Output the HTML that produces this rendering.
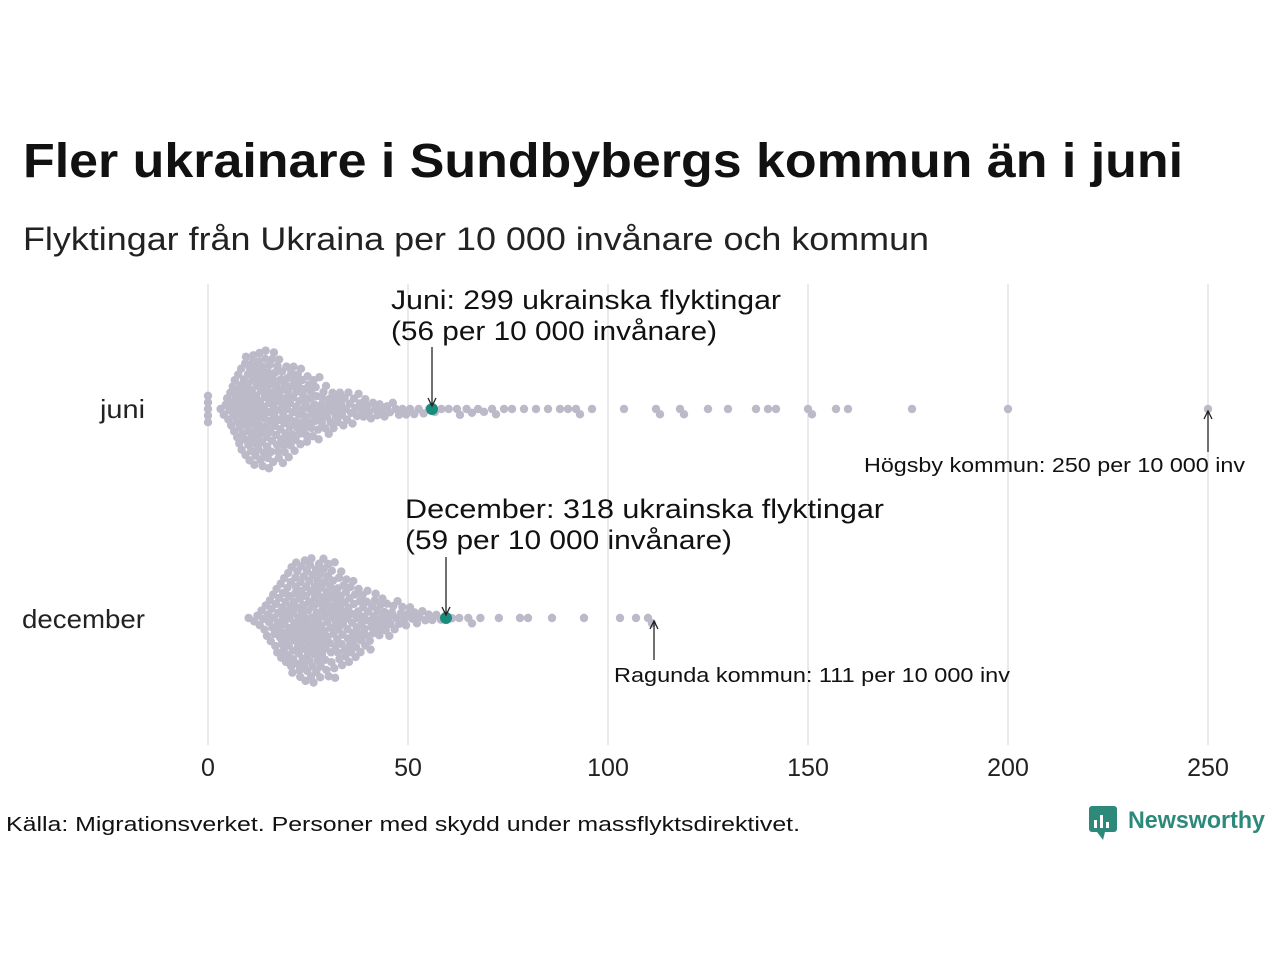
<!DOCTYPE html>
<html><head><meta charset="utf-8"><style>body{margin:0;background:#fff}svg{display:block}</style></head><body>
<svg id="s" width="1280" height="960" xmlns="http://www.w3.org/2000/svg" font-family="Liberation Sans, DejaVu Sans, sans-serif">
<rect width="1280" height="960" fill="#fff"/>
<text x="23" y="177" font-size="48" font-weight="bold" fill="#111" textLength="1160" lengthAdjust="spacingAndGlyphs">Fler ukrainare i Sundbybergs kommun än i juni</text>
<text x="23" y="250" font-size="32" fill="#222" textLength="906" lengthAdjust="spacingAndGlyphs">Flyktingar från Ukraina per 10 000 invånare och kommun</text>
<g stroke="#d4d4d4" stroke-width="1">
<line x1="208" y1="284" x2="208" y2="745"/><line x1="408" y1="284" x2="408" y2="745"/><line x1="608" y1="284" x2="608" y2="745"/><line x1="808" y1="284" x2="808" y2="745"/><line x1="1008" y1="284" x2="1008" y2="745"/><line x1="1208" y1="284" x2="1208" y2="745"/>
</g>
<g font-size="25" fill="#222" text-anchor="middle">
<text x="208" y="776">0</text><text x="408" y="776">50</text><text x="608" y="776">100</text><text x="808" y="776">150</text><text x="1008" y="776">200</text><text x="1208" y="776">250</text>
</g>
<text x="145" y="418" font-size="26" fill="#222" text-anchor="end" textLength="45" lengthAdjust="spacingAndGlyphs">juni</text>
<text x="145" y="628" font-size="26" fill="#222" text-anchor="end" textLength="123" lengthAdjust="spacingAndGlyphs">december</text>
<g id="dots"></g>
<g stroke="#222" stroke-width="1.3" fill="none">
<line x1="432" y1="347" x2="432" y2="405"/><path d="M428,398 L432,406 L436,398"/>
<line x1="446" y1="557" x2="446" y2="614"/><path d="M442,607 L446,615 L450,607"/>
<line x1="1208" y1="452" x2="1208" y2="412"/><path d="M1204,419 L1208,411 L1212,419"/>
<line x1="654" y1="660" x2="654" y2="622"/><path d="M650,629 L654,621 L658,629"/>
</g>
<g font-size="27" fill="#111">
<text x="391" y="309" textLength="390" lengthAdjust="spacingAndGlyphs">Juni: 299 ukrainska flyktingar</text>
<text x="391" y="340" textLength="326" lengthAdjust="spacingAndGlyphs">(56 per 10 000 invånare)</text>
<text x="405" y="518" textLength="479" lengthAdjust="spacingAndGlyphs">December: 318 ukrainska flyktingar</text>
<text x="405" y="549" textLength="327" lengthAdjust="spacingAndGlyphs">(59 per 10 000 invånare)</text>
</g>
<g font-size="20" fill="#111">
<text x="864" y="472" textLength="381" lengthAdjust="spacingAndGlyphs">Högsby kommun: 250 per 10 000 inv</text>
<text x="614" y="682" textLength="396" lengthAdjust="spacingAndGlyphs">Ragunda kommun: 111 per 10 000 inv</text>
<text x="6" y="831" textLength="794" lengthAdjust="spacingAndGlyphs">Källa: Migrationsverket. Personer med skydd under massflyktsdirektivet.</text>
</g>
<rect x="1089" y="806" width="28" height="26" rx="3" fill="#2d8a7a"/>
<path d="M1097,832 L1103,840 L1105,832Z" fill="#2d8a7a"/>
<g fill="#fff"><rect x="1094" y="820" width="3" height="8"/><rect x="1100" y="815" width="3" height="13"/><rect x="1106" y="822" width="3" height="6"/></g>
<text x="1128" y="828" font-size="24" font-weight="bold" fill="#2d8a7a" textLength="137" lengthAdjust="spacingAndGlyphs">Newsworthy</text>
</svg>
<script>
function erfinv(x){var a=0.147,l=Math.log(1-x*x),t=2/(Math.PI*a)+l/2;return Math.sign(x)*Math.sqrt(Math.sqrt(t*t-l/a)-t);}
function z(u){return Math.SQRT2*erfinv(2*u-1);}
function gen(n,med,sig,lo,hi,extra,zeros){var v=[];for(var i=0;i<n;i++){var u=(i+0.5)/n;var x=Math.exp(Math.log(med)+sig*z(u));if(x<lo)x=lo+(i%3);if(x>hi)x=hi-(i%7)*3;v.push(x);}for(i=0;i<zeros;i++)v.push(0);return v.concat(extra);}
var juni=gen(270,19,0.62,3,72,[74,76,79,82,85,88,90,92,93,96,104,112,113,118,119,125,130,137,140,142,150,151,157,160,176,200,250],5);
var dec=gen(284,29,0.36,4,75,[78,80,86,94,103,107,110,111],0);
var NS="http://www.w3.org/2000/svg",g=document.getElementById('dots');
function swarm(vals,cy,hl){vals.sort(function(a,b){return a-b});var placed=[],d=6.6;
vals.forEach(function(v){var x=208+v*4,y=0;var cands=[0];placed.forEach(function(p){var dx=Math.abs(p[0]-x);if(dx<d){var dy=Math.sqrt(d*d-dx*dx);cands.push(p[1]+dy,p[1]-dy);}});
cands.sort(function(a,b){return Math.abs(a)-Math.abs(b)});for(var k=0;k<cands.length;k++){var c=cands[k],ok=true;for(var j=0;j<placed.length;j++){var p=placed[j];var dx=p[0]-x,dy=p[1]-c;if(dx*dx+dy*dy<d*d-0.01){ok=false;break;}}if(ok){y=c;break;}}
placed.push([x,y]);var e=document.createElementNS(NS,'circle');e.setAttribute('cx',x);e.setAttribute('cy',cy+y);e.setAttribute('r',4.2);e.setAttribute('fill','#bcb9c9');g.appendChild(e);});
var e=document.createElementNS(NS,'circle');e.setAttribute('cx',208+hl*4);e.setAttribute('cy',cy);e.setAttribute('r',6);e.setAttribute('fill','#1a8c7c');g.appendChild(e);}
swarm(juni,409,56);swarm(dec,618,59.5);
</script>
</body></html>
